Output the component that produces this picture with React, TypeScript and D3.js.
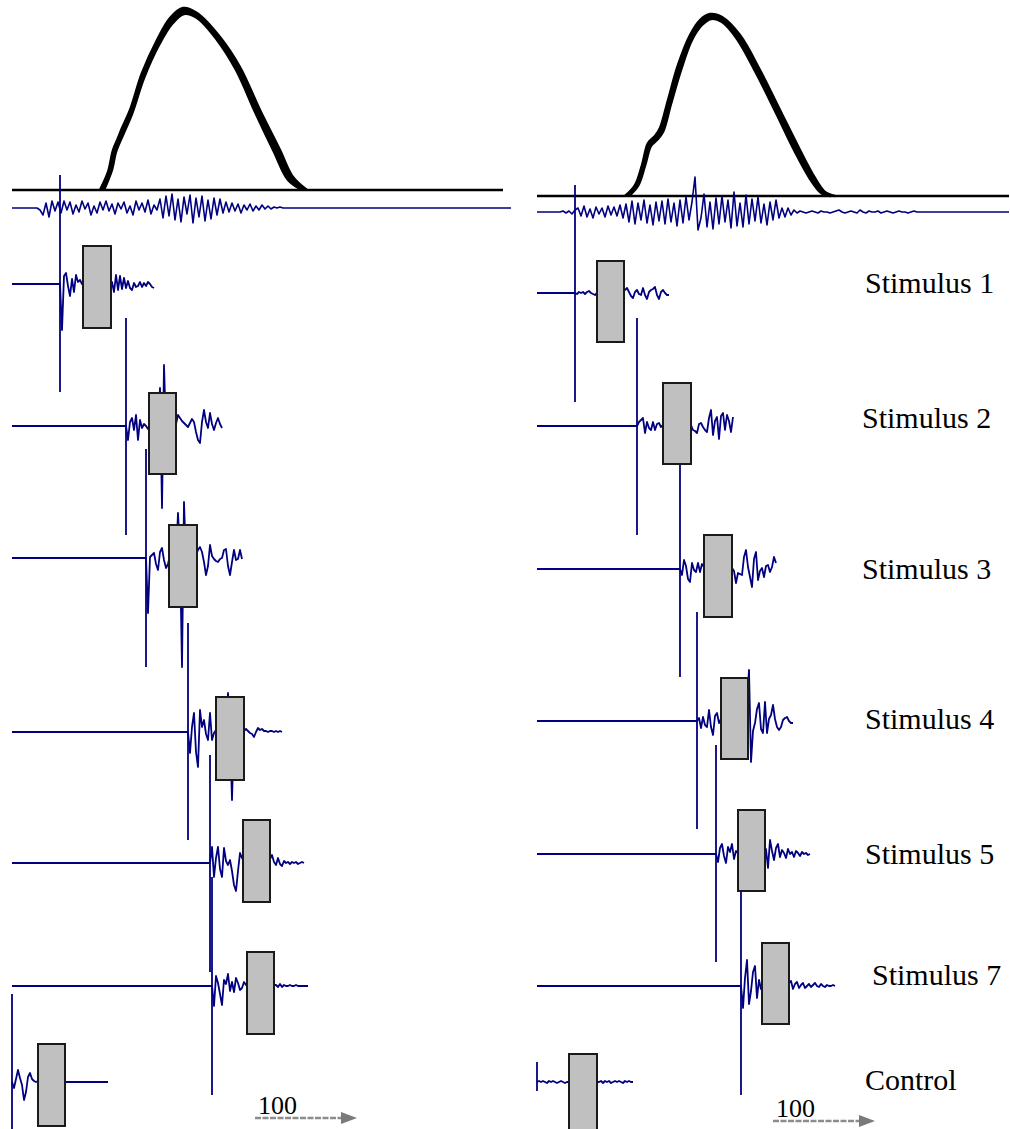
import React from 'react';
import * as d3 from 'd3';

const W = 1010;
const H = 1129;
const STEP = 2;        // ms between samples of the stimulus traces
const NOISE_STEP = 3;  // ms between samples of the ongoing trace

// ---- row labels (right panel) ----
const labels = ['Stimulus 1', 'Stimulus 2', 'Stimulus 3', 'Stimulus 4', 'Stimulus 5', 'Stimulus 7', 'Control'];
const labelTime = [328, 325, 325, 328, 328, 335, 328];
const labelDepth = [293, 428, 579, 729, 864, 985, 1090];

// ---- trace offsets (stacking depth) ----
const leftOffset = [284, 426, 558, 732, 863, 986, 1082];
const rightOffset = [293, 426, 569, 721, 854, 986, 1082];

// ---- stimulus artefact time (ms) and its extent (up, down) ----
const leftSpike = [48, 114, 134, 176, 198, 200, 0];
const rightSpike = [38, 100, 143, 160, 179, 204, 0];
const leftSpikeAmp = [[109, -108], [108, -109], [109, -109], [109, -108], [108, -109], [109, -109], [88, -60]];
const rightSpikeAmp = [[108, -109], [108, -109], [109, -108], [109, -108], [109, -108], [109, -109], [20, -9]];

// ---- response window boxes: [start, end, top, bottom] ----
const leftBox = [[71, 99, 38, -44], [137, 164, 33, -48], [157, 185, 33, -49], [204, 232, 35, -48], [231, 258, 43, -39], [235, 262, 34, -48], [26, 53, 38, -44]];
const rightBox = [[60, 87, 32, -49], [126, 154, 43, -38], [167, 195, 34, -48], [184, 211, 43, -38], [201, 228, 44, -37], [225, 252, 43, -38], [32, 60, 28, -60]];

// ---- trace end (ms) ----
const leftEnd = [142, 210, 230, 270, 292, 296, 96];
const rightEnd = [132, 196, 239, 256, 273, 298, 96];

// ---- responses, sampled every STEP ms from the artefact ----
const leftWave = [
  [0, -46, 8, 11, -2, -12, 5, -8, 9, 2, 4, 0, 3, -4, 5, -3, 2, -5, 4, -2, 3, -4, 5, -3, 2, -1, 2, -8, 9, -6, 8, -5, 6, -4, 3, -4, -6, 1, -3, -2, 2, -3, 1, -2, 2, 0, -3, -4],
  [0, -14, 4, 8, -4, 11, -14, 6, -2, 2, 0, -3, 2, -3, 4, -2, 5, 38, -82, 61, -5, 3, -4, 2, -3, 2, 11, 8, 5, 3, 1, -1, 3, 7, 4, -6, -14, -17, 4, 16, 4, -2, 13, 2, -4, 3, 8, 2, -2],
  [0, -55, 1, 3, 5, -6, -12, 6, 10, -2, -10, -6, 3, -4, 5, -2, 45, 4, -109, 56, -3, 2, -4, 3, -2, 4, 8, 11, 6, -4, -17, -8, 13, 2, -1, -3, -4, -1, 0, 8, 9, -8, -17, -4, 8, -2, -1, 8, -1],
  [0, -21, 5, 19, -20, -35, 22, 5, 12, -2, -8, 19, -8, -1, 2, -3, 4, -2, 3, -1, 39, 0, -68, 2, -2, 3, -1, 2, 1, 3, 1, -1, -2, -5, 0, 4, 2, 3, 1, 1, 0, 1, 1, 0, 1, 0, 1, 0],
  [0, 16, -14, 5, 16, -6, -14, 15, 2, -2, 3, -8, -22, -28, -8, 10, 5, 2, -3, 4, -2, 3, -1, 2, -2, 3, -1, 2, -2, 1, 4, 8, 1, -2, 5, -1, -3, 2, 0, 1, -1, 1, 0, 1, -1, 0, 1, 0],
  [0, -20, 10, 3, -8, -19, 6, 2, 12, -5, 4, -6, 8, 3, -4, -2, 4, 1, 2, -2, 3, -1, 2, -2, 3, -1, 2, -2, 1, -1, 2, 1, 1, -1, 2, -1, 1, 0, 0, 1, 0, 0, 1, 0, 0, 0, 0, 0, 0],
  [0, -6, 3, 12, 4, -3, -18, -10, 5, 9, 3, 1, 0, 1, -1, 1, 0, -1, 1, 0, 1, -1, 0, 1, -1, 0, 0],
];
const rightWave = [
  [0, -1, 1, 0, 1, -1, 1, 2, 0, -1, -2, 0, 1, -1, 2, -1, 0, 1, -2, 1, 0, -1, 1, 0, 2, 3, 5, 1, -3, -5, 1, 3, -1, -2, 5, -2, -6, 1, 3, 4, 6, -2, -6, 1, 3, 0, -2, -2],
  [0, 4, 6, 8, -7, 4, -2, -4, 4, -4, 2, 3, -1, 1, -2, 2, -1, 3, -2, 1, 0, -1, 2, -2, 1, 0, -1, 1, -4, -5, -7, 2, 3, -1, -4, -6, 8, 16, -9, 5, 9, -13, 10, 13, -4, 11, 5, -6, 9],
  [0, -6, 9, 3, -10, -13, 6, -1, -3, 6, -3, 5, 2, -2, 3, -1, 2, -3, 1, 0, 2, -1, 1, -2, 2, 0, 1, -2, -14, -4, -5, -6, 12, 19, 2, -8, -18, 10, 17, -11, -2, 1, -8, 3, 4, -3, 2, 12, 6],
  [0, 3, -7, 4, -4, -6, 11, -6, -14, 5, 8, -2, 2, -1, 3, -2, 1, 0, -1, 2, -2, 1, 0, 2, -1, 20, 51, -41, -10, -2, 12, 18, -8, -12, 19, -12, 2, 6, 16, 2, -6, -9, -6, 1, 3, 4, 0, -2, -2],
  [0, -8, 6, 10, -2, -9, 7, 2, 10, -5, 3, 1, -2, 2, -1, 3, -2, 1, 0, -1, 2, -2, 1, 0, 1, 5, -14, 14, 3, -6, 6, 10, -3, 4, 1, -4, 5, 0, 2, -3, 3, 1, -2, 2, 0, 1, -1, 0],
  [0, -22, 8, 26, -18, -5, 14, 20, -12, 6, -3, 1, -2, 2, -1, 3, -2, 1, 0, -1, 2, -2, 1, 0, 3, 5, -3, 2, 4, -2, 1, 3, -2, 0, 2, -1, 1, 3, 0, -1, 2, 0, -1, 1, 0, 0, 1, 0],
  [0, 1, 0, 1, 0, -1, 1, 0, 1, 0, -1, 0, 1, 0, -1, 0, 0, 0, 0, 0, 0, 0, 0, 0, 0, 0, 0, 0, 0, 0, 0, 0, 1, -1, 1, 0, 1, -1, 0, 1, 0, 1, 0, -1, 1, 0, 1, 0, 0],
];

// ---- ongoing trace under the pulse ----
const noiseOffset = [208, 212];
const noiseStart = [25, 23];
const noiseEnd = [499, 472];
const leftNoise = [
  0, -2, -7, 5, -9, 7, -3, 6,
  -5, 7, -2, 6, -6, 3, -4, 7, -1, 5, -7, 2, -5, 6, -2, 7, -3, 4, -6, 5, -1, 6, -5, 2, -7, 7, -2, 5, -4, 8, -6, 3, -2, 9,
  -10, 12, -8, 14, -12, 9, -14, 11, -6, 13, -15, 10, -9, 12, -13, 8, -11, 10, -7, 9, -5, 6,
  -4, 5, -3, 4, -5, 3, -2, 4, -3, 2, -2, 3, -1, 2, -1, 1, 0, 1, 0, 0,
];
const rightNoise = [
  0, 1, -1, 1, -2, 2,
  4, -4, 6, -5, 3, -6, 5, -2, 4, -5, 6, -3, 5, -4, 7, -6,
  8, -10, 11, -12, 9, -8, 12, -11, 7, -13, 10, -9, 11, -12, 13, -10, 9, -14, 12, -11, 15,
  -8, 10, 35, -18, -6, 18, -15, 10, -17, 14, -12, 16, -10, 12, -16, 20, -14, 9, -15, 17, -12, 13, -9, 15, -11, 8, -13, 10, -8, 12, -6, 4,
  -5, 4, -3, 2, -1, 1,
  0, -1, 0, 1, 0, -1, 1, 0, 0, -1, 0, 1, 2, 0, -1, 0, 1, 0, -1, 2, 0, -1, 1, 0, 0, 1, -1, 0, 1, 0, -1, 0, 1, 0, 0, -1, 0, 1, 0, 0,
];

// ---- stimulus pulse (outer and inner edge of the band) ----
const pulseOffset = [190, 196];
const pulseEnd = [491, 472];
const leftPulseHi = [[88, 0], [96, 18], [101, 40], [106, 52], [110, 62], [118, 80], [130, 117], [145, 150], [158, 172], [171, 182], [185, 177], [208, 153], [228, 123], [248, 80], [268, 40], [281, 13], [295, 0]];
const leftPulseLo = [[92, 0], [100, 20], [104, 38], [111, 55], [120, 76], [132, 112], [147, 145], [160, 166], [172, 176], [185, 172], [205, 150], [224, 120], [243, 78], [262, 38], [276, 10], [290, 0]];
const rightPulseHi = [[88, 0], [98, 11], [105, 31], [111, 53], [118, 60], [123, 68], [131, 96], [141, 131], [153, 161], [163, 176], [173, 182], [185, 179], [203, 161], [223, 126], [243, 86], [263, 46], [278, 18], [288, 4], [298, 0]];
const rightPulseLo = [[92, 0], [101, 10], [108, 30], [114, 50], [120, 56], [126, 64], [134, 92], [144, 126], [155, 156], [165, 171], [174, 177], [185, 174], [200, 157], [219, 123], [239, 83], [258, 44], [273, 17], [284, 3], [294, 0]];

// ---- time scale bar ----
const scaleLabel = '100';
const scaleStart = [243, 236];
const scaleLen = 100;
const scaleDepth = [1118, 1121];

const BLUE = '#000080';
const SERIF = '"Liberation Serif", "Times New Roman", Times, serif';

type Pt = [number, number];

function Panel({ side }: { side: 0 | 1 }) {
  const x = d3.scaleLinear().domain([0, 500]).range(side === 0 ? [12, 512] : [537, 1037]);
  const y = d3.scaleLinear().domain([0, H]).range([0, H]);

  const offsets = side === 0 ? leftOffset : rightOffset;
  const spikes = side === 0 ? leftSpike : rightSpike;
  const spikeAmp = side === 0 ? leftSpikeAmp : rightSpikeAmp;
  const boxes = side === 0 ? leftBox : rightBox;
  const ends = side === 0 ? leftEnd : rightEnd;
  const waves = side === 0 ? leftWave : rightWave;
  const noise = side === 0 ? leftNoise : rightNoise;
  const hi = side === 0 ? leftPulseHi : rightPulseHi;
  const lo = side === 0 ? leftPulseLo : rightPulseLo;

  const lineAt = (off: number) =>
    d3.line<Pt>().x(d => x(d[0])).y(d => y(off - d[1]));

  // pulse band
  const pOff = pulseOffset[side];
  const band = [...hi, ...lo.slice().reverse()] as Pt[];
  const bandPath = lineAt(pOff).curve(d3.curveCatmullRomClosed)(band) || '';
  const hiPath = lineAt(pOff).curve(d3.curveCatmullRom)(hi as Pt[]) || '';
  const loPath = lineAt(pOff).curve(d3.curveCatmullRom)(lo as Pt[]) || '';

  // ongoing trace
  const nOff = noiseOffset[side];
  const nPts: Pt[] = [[0, 0]];
  noise.forEach((v, i) => nPts.push([noiseStart[side] + i * NOISE_STEP, v]));
  nPts.push([noiseEnd[side], 0]);
  const noisePath = lineAt(nOff)(nPts) || '';

  const traces = offsets.map((off, r) => {
    const s = spikes[r];
    const pts: Pt[] = [[0, 0], [s, 0]];
    waves[r].forEach((v, i) => pts.push([s + i * STEP, v]));
    const last = s + (waves[r].length - 1) * STEP;
    if (ends[r] > last) pts.push([ends[r], 0]);
    return lineAt(off)(pts) || '';
  });

  const sx0 = scaleStart[side];
  const sy = y(scaleDepth[side]);
  const headLen = 14;

  return (
    <g>
      {/* pulse */}
      <line x1={x(0)} x2={x(pulseEnd[side])} y1={y(pOff)} y2={y(pOff)} stroke="#000" strokeWidth={2.6} />
      <path d={bandPath} fill="#000" stroke="none" />
      <path d={hiPath} fill="none" stroke="#000" strokeWidth={2.4} />
      <path d={loPath} fill="none" stroke="#000" strokeWidth={2.4} />

      {/* ongoing trace */}
      <path d={noisePath} fill="none" stroke={BLUE} strokeWidth={1.6} strokeLinejoin="round" />

      {/* stimulus traces */}
      {traces.map((d, r) => (
        <path key={`t${r}`} d={d} fill="none" stroke={BLUE} strokeWidth={1.8} strokeLinejoin="round" />
      ))}
      {offsets.map((off, r) => (
        <line key={`s${r}`} x1={x(spikes[r])} x2={x(spikes[r])}
          y1={y(off - spikeAmp[r][0])} y2={y(off - spikeAmp[r][1])}
          stroke={BLUE} strokeWidth={1.8} />
      ))}

      {/* response windows */}
      {offsets.map((off, r) => {
        const [b0, b1, top, bot] = boxes[r];
        return (
          <rect key={`b${r}`} x={x(b0)} width={x(b1) - x(b0)}
            y={y(off - top)} height={y(off - bot) - y(off - top)}
            fill="#c0c0c0" stroke="#1a1a1a" strokeWidth={2} />
        );
      })}

      {/* time scale */}
      <text x={x(sx0) + 3} y={sy - 4} fontFamily={SERIF} fontSize={26} fill="#000">{scaleLabel}</text>
      <line x1={x(sx0)} x2={x(sx0 + scaleLen - headLen + 2)} y1={sy} y2={sy}
        stroke="#8c8c8c" strokeWidth={2.4} strokeDasharray="6 1.5" />
      <path d={`M${x(sx0 + scaleLen - headLen)},${sy - 6}L${x(sx0 + scaleLen + 2)},${sy}L${x(sx0 + scaleLen - headLen)},${sy + 6}Z`}
        fill="#7a7a7a" />

      {/* labels */}
      {side === 1 && labels.map((t, r) => (
        <text key={`l${r}`} x={x(labelTime[r])} y={y(labelDepth[r])}
          fontFamily={SERIF} fontSize={30} fill="#000">{t}</text>
      ))}
    </g>
  );
}

export default function App() {
  return (
    <svg width={W} height={H} viewBox={`0 0 ${W} ${H}`}
      style={{ position: 'absolute', left: 0, top: 0, background: '#fff' }}>
      <rect width={W} height={H} fill="#fff" />
      <Panel side={0} />
      <Panel side={1} />
    </svg>
  );
}
